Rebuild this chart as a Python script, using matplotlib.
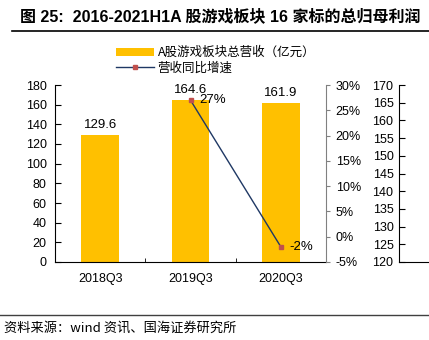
import matplotlib
matplotlib.use("Agg")
import matplotlib.pyplot as plt

plt.rcParams['font.family'] = ['Liberation Sans', 'Noto Sans CJK SC', 'DejaVu Sans']

categories = ["2018Q3", "2019Q3", "2020Q3"]
revenue = [129.6, 164.6, 161.9]
growth_x = ["2019Q3", "2020Q3"]
growth = [27, -2]
growth_labels = ["27%", "-2%"]
left_ticks = list(range(0, 181, 20))
pct_ticks = list(range(-5, 31, 5))
other_ticks = list(range(120, 171, 5))

W, H = 429, 340
fig = plt.figure(figsize=(W / 100, H / 100), dpi=100)

def rect(x0, y0, x1, y1):
    return [x0 / W, 1 - y1 / H, (x1 - x0) / W, (y1 - y0) / H]

FS = 9

ax = fig.add_axes(rect(55, 85, 326, 262))
xs = list(range(len(categories)))
bars = ax.bar(xs, revenue, width=0.42, color="#FFC000", zorder=2, label="A股游戏板块总营收（亿元）")
for x, v in zip(xs, revenue):
    ax.text(x, v + 4, f"{v}", ha="center", va="bottom", fontsize=FS + 0.5)
ax.set_xlim(-0.5, 2.5)
ax.set_ylim(0, 180)
ax.set_yticks(left_ticks)
ax.set_xticks(xs)
ax.set_xticklabels(categories)
ax.set_xticks([0.5, 1.5], minor=True)
ax.tick_params(axis="x", which="major", length=0, labelsize=FS, pad=8)
ax.tick_params(axis="x", which="minor", direction="in", length=3)
ax.tick_params(axis="y", direction="in", length=4, labelsize=FS, pad=6)
for s in ["top", "right"]:
    ax.spines[s].set_visible(False)

ax2 = ax.twinx()
gx = [categories.index(c) for c in growth_x]
line, = ax2.plot(gx, growth, color="#1F3864", lw=1.0, marker="s", ms=3.5,
                 mfc="#C0504D", mec="#C0504D", zorder=3, label="营收同比增速")
for x, v, t in zip(gx, growth, growth_labels):
    ax2.text(x + 0.1, v, t, ha="left", va="center", fontsize=FS + 0.5)
ax2.set_ylim(-5, 30)
ax2.set_yticks(pct_ticks)
ax2.set_yticklabels([f"{t}%" for t in pct_ticks])
ax2.tick_params(axis="y", direction="out", length=3, colors="#808080", labelcolor="black",
                labelsize=FS, pad=4)
for s in ["top", "left", "bottom"]:
    ax2.spines[s].set_visible(False)
ax2.spines["right"].set_color("#808080")

# neighbouring chart axis (cut off)
ax3 = fig.add_axes(rect(399, 85, 440, 262))
ax3.set_ylim(120, 170)
ax3.set_yticks(other_ticks)
ax3.set_xticks([])
ax3.tick_params(axis="y", direction="in", length=4, labelsize=FS, pad=4)
ax3.patch.set_alpha(0)
for s in ["top", "right"]:
    ax3.spines[s].set_visible(False)

leg = fig.legend(handles=[bars, line], loc="upper left", bbox_to_anchor=(110 / W, 1 - 40 / H),
                 frameon=False, handlelength=3.0, handletextpad=0.3,
                 labelspacing=0.2, borderpad=0, prop={'family': ['Noto Sans CJK SC'], 'size': 9})

fig.text(20 / W, 1 - 16 / H, "图 25:  2016-2021H1A 股游戏板块 16 家标的总归母利润",
         fontsize=11.5, fontweight="bold", va="center", ha="left",
         family=['Liberation Sans', 'Noto Sans CJK SC'])
fig.add_artist(plt.Line2D([12 / W, 1], [1 - 31 / H, 1 - 31 / H], color="black", lw=1.2))
fig.add_artist(plt.Line2D([0, 1], [1 - 315 / H, 1 - 315 / H], color="#404040", lw=1.0))
fig.text(4 / W, 1 - 328 / H, "资料来源：wind 资讯、国海证券研究所", fontsize=9.5, va="center", ha="left",
         family=['Noto Sans CJK SC'])

fig.savefig("out.png", dpi=100)
